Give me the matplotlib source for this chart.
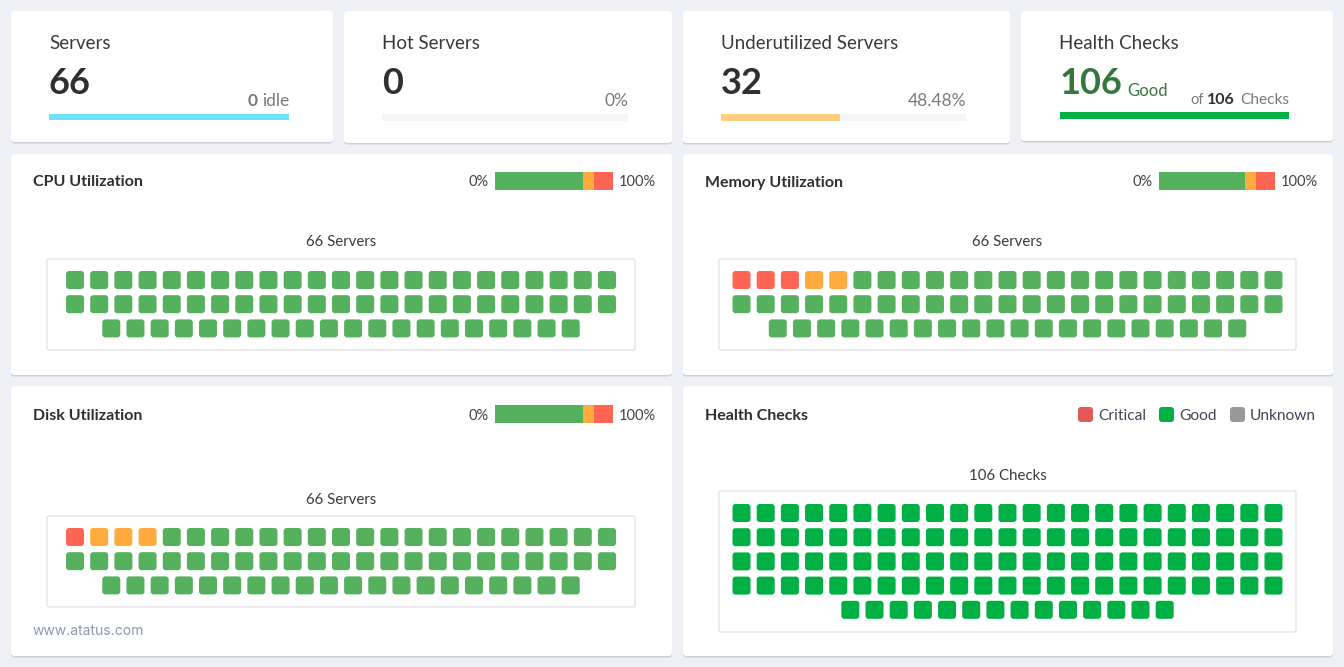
import matplotlib
matplotlib.use("Agg")
from matplotlib import pyplot as plt
from matplotlib.patches import FancyBboxPatch

plt.rcParams["font.family"] = ["Lato", "DejaVu Sans"]

GREEN = "#55b15d"
ORANGE = "#ffab3d"
RED = "#ff6554"
HEALTH = "#00b045"
DARK = "#2f2f2f"
GREY = "#7a7a7a"
COLORS = {"g": GREEN, "o": ORANGE, "r": RED, "h": HEALTH}

# one data unit is one pixel of the dashboard
fig = plt.figure(figsize=(13.44, 6.67), dpi=100, facecolor="#eef0f5")
ax = fig.add_axes([0, 0, 1, 1])
ax.set_xlim(0, 1344)
ax.set_ylim(667, 0)
ax.axis("off")


def rounded(x0, y0, x1, y1, color, r=3, ec="none", lw=0, zorder=2):
    ax.add_patch(FancyBboxPatch((x0 + r, y0 + r), x1 - x0 - 2 * r, y1 - y0 - 2 * r,
                                boxstyle=f"round,pad={r},rounding_size={r}",
                                fc=color, ec=ec, lw=lw, zorder=zorder))


def card(x0, y0, x1, y1):
    rounded(x0, y0 + 1.5, x1, y1 + 1.5, "#ccd0dc", zorder=1)
    rounded(x0, y0, x1, y1, "white")


def label(x, y, s, size=11, color=DARK, ha="left", weight="normal", **kw):
    # Lato sits a little high when centred, hence the +1.5
    ax.text(x, y + 1.5, s, fontsize=size, color=color, ha=ha, va="center",
            fontweight=weight, zorder=5, **kw)


# summary cards
cards = [
    dict(box=(11, 11, 333, 142), title="Servers", value="66", bar=(49, 289, 114, 120),
         frac=1.0, fill="#6ce3fb"),
    dict(box=(344, 11, 672, 143), title="Hot Servers", value="0", bar=(382, 628, 114, 121),
         frac=0.0, fill="#ffce80"),
    dict(box=(683, 11, 1010, 143), title="Underutilized Servers", value="32", bar=(721, 966, 114, 121),
         frac=0.4848, fill="#ffce80"),
    dict(box=(1021, 11, 1333, 141), title="Health Checks", value="106", bar=(1060, 1289, 112, 119),
         frac=1.0, fill=HEALTH),
]
for c in cards:
    card(*c["box"])
    x0, x1, y0, y1 = c["bar"]
    ax.barh((y0 + y1) / 2, x1 - x0, height=y1 - y0, left=x0, color="#f5f5f5", zorder=3)
    ax.barh((y0 + y1) / 2, (x1 - x0) * c["frac"], height=y1 - y0, left=x0, color=c["fill"], zorder=4)
    label(c["box"][0] + 38, 42, c["title"], size=13.5, color="#3a3a3a")
    value_color = "#35763f" if c["title"] == "Health Checks" else DARK
    label(x0, 82, c["value"], size=26, color=value_color, weight="bold")

label(258, 100, "0", size=12.5, color=GREY, ha="right", weight="bold")
label(289, 100, "idle", size=12.5, color=GREY, ha="right")
label(628, 100, "0%", size=12.5, color=GREY, ha="right")
label(966, 100, "48.48%", size=12.5, color=GREY, ha="right")
label(1127, 89, "Good", size=12, color="#35763f")
label(1190, 99, "of", size=10.5, color=GREY)
label(1207, 98, "106", size=11.5, color=DARK, weight="bold")
label(1289, 99, "Checks", size=11.2, color=GREY, ha="right")

# status panels: which cell has which colour, row by row
panels = [
    dict(box=(11, 154, 672, 375), title="CPU Utilization", count="66 Servers", frame=(47, 635, 259, 350),
         rows=["g" * 23, "g" * 23, "g" * 20], first_y=271, head_y=181, count_y=241,
         util=(495, 583, 594, 613)),
    dict(box=(683, 154, 1333, 375), title="Memory Utilization", count="66 Servers", frame=(719, 1296, 259, 350),
         rows=["rrroo" + "g" * 18, "g" * 23, "g" * 20], first_y=271, head_y=181, count_y=241,
         util=(1159, 1245, 1256, 1275)),
    dict(box=(11, 386, 672, 656), title="Disk Utilization", count="66 Servers", frame=(47, 635, 516, 607),
         rows=["rooo" + "g" * 19, "g" * 23, "g" * 20], first_y=528, head_y=414, count_y=498,
         util=(495, 583, 594, 613)),
    dict(box=(683, 386, 1333, 656), title="Health Checks", count="106 Checks", frame=(719, 1296, 491, 632),
         rows=["h" * 23] * 4 + ["h" * 14], first_y=504, head_y=414, count_y=474,
         util=None),
]
STEP = 24.18
CELL = 18
for p in panels:
    card(*p["box"])
    x0, x1, y0, y1 = p["frame"]
    label(p["box"][0] + 22, p["head_y"], p["title"], size=11.5, weight="bold")
    label((x0 + x1) / 2, p["count_y"], p["count"], size=10.8, ha="center", color="#3a3a3a")
    rounded(x0, y0, x1, y1, "white", r=2, ec="#d8d9dc", lw=0.7, zorder=3)

    # cells are centred in the frame, so short rows start further in
    centre = (x0 + x1) / 2
    for i, row in enumerate(p["rows"]):
        start = centre - (len(row) * STEP - (STEP - CELL)) / 2
        for j, status in enumerate(row):
            left = start + j * STEP
            top = p["first_y"] + i * 24.2
            rounded(left, top, left + CELL, top + CELL, COLORS[status], r=3, zorder=4)

    if p["util"]:
        a, b, c, d = p["util"]
        y = p["head_y"]
        for left, right, color in [(a, b, GREEN), (b, c, ORANGE), (c, d, RED)]:
            ax.barh(y, right - left, height=18, left=left, color=color, zorder=4)
        label(a - 6, y, "0%", size=10.5, ha="right", color="#444444")
        label(d + 6, y, "100%", size=10.5, color="#444444")

# health legend
for x, text, color, tx in [(1078, "Critical", "#e35959", 1098), (1159, "Good", HEALTH, 1179),
                           (1230, "Unknown", "#999999", 1250)]:
    rounded(x, 407, x + 15, 422, color, r=3, zorder=4)
    label(tx, 414, text, size=11.2, color="#3f4655")

ax.text(33, 631, "www.atatus.com", fontsize=10, color="#8f97b5", family="Inter", va="center", zorder=5)

fig.savefig("out.png", dpi=100, facecolor=fig.get_facecolor())
